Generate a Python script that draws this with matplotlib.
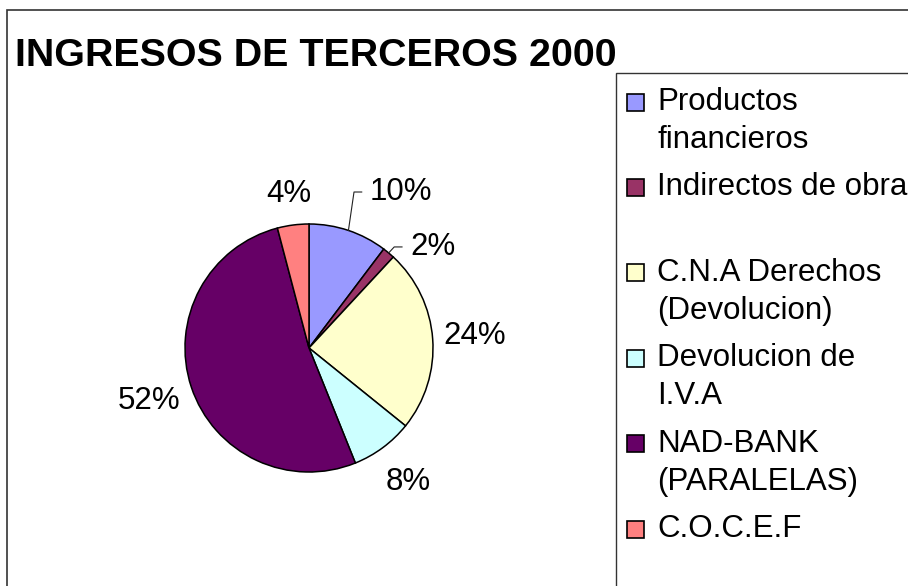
import numpy as np
import matplotlib
matplotlib.use("Agg")
import matplotlib.pyplot as plt
from matplotlib.patches import Rectangle

plt.rcParams['font.family'] = ['Liberation Sans', 'DejaVu Sans']

# datos
categorias = ["Productos\nfinancieros", "Indirectos de obra", "C.N.A Derechos\n(Devolucion)",
              "Devolucion de\nI.V.A", "NAD-BANK\n(PARALELAS)", "C.O.C.E.F"]
valores = [10.3, 1.6, 23.9, 8.1, 52.0, 4.1]
colores = ["#9999FF", "#993366", "#FFFFCC", "#CCFFFF", "#660066", "#FF8080"]
titulo = "INGRESOS DE TERCEROS 2000"

W, H = 908, 586
fig = plt.figure(figsize=(W / 100, H / 100), dpi=100)

def fx(px):
    return px / W

def fy(py):
    return 1 - py / H

# ejes del pastel: centro en (309, 348) px, radio 124 px
cx, cy, R = 309, 348, 124
ax = fig.add_axes([0, 0, 1, 1])
wedges, _ = ax.pie(valores, colors=colores, startangle=90, counterclock=False,
                   radius=1, center=(0, 0),
                   wedgeprops=dict(edgecolor="black", linewidth=1.1))
ax.set_xlim(-cx / R, (W - cx) / R)
ax.set_ylim(-(H - cy) / R, cy / R)
ax.set_aspect("auto")
ax.axis("off")

# etiquetas de porcentaje
dist = [None, None, 1.34, 1.35, 1.36, 1.25]
con_guia = {0: (0.49, 1.258), 1: (0.815, 0.815)}
for i, w in enumerate(wedges):
    texto = "%d%%" % round(valores[i])
    ang = np.radians((w.theta1 + w.theta2) / 2)
    if i in con_guia:
        tx, ty = con_guia[i]
        ex, ey = np.cos(ang), np.sin(ang)
        ax.plot([ex, ex + 0.045, tx - 0.065], [ey, ty, ty], color="#222222", lw=0.8)
        ax.text(tx, ty, texto, ha="left", va="center", fontsize=22.5)
    else:
        ax.text(dist[i] * np.cos(ang), dist[i] * np.sin(ang), texto,
                ha="center", va="center", fontsize=22.5)

# marco exterior
fig.patches.append(Rectangle((fx(7), fy(600)), fx(920) - fx(7), fy(10) - fy(600),
                             transform=fig.transFigure, fill=False,
                             edgecolor="#333333", linewidth=1.2))

# titulo
fig.text(fx(15), fy(66), titulo, fontsize=28.4, fontweight="bold",
         ha="left", va="baseline")

# leyenda
fig.patches.append(Rectangle((fx(616), fy(600)), fx(920) - fx(616), fy(73) - fy(600),
                             transform=fig.transFigure, fill=False,
                             edgecolor="#333333", linewidth=1.0))
y0, paso, linea = 102, 85.4, 38
for i, (cat, col) in enumerate(zip(categorias, colores)):
    yy = y0 + i * paso
    fig.patches.append(Rectangle((fx(627), fy(yy + 8.5)), fx(17), 17 / H,
                                 transform=fig.transFigure, facecolor=col,
                                 edgecolor="black", linewidth=1.2))
    for j, parte in enumerate(cat.split("\n")):
        fig.text(fx(657), fy(yy + j * linea), parte, fontsize=22.5,
                 ha="left", va="center")

fig.savefig("out.png", dpi=100)
